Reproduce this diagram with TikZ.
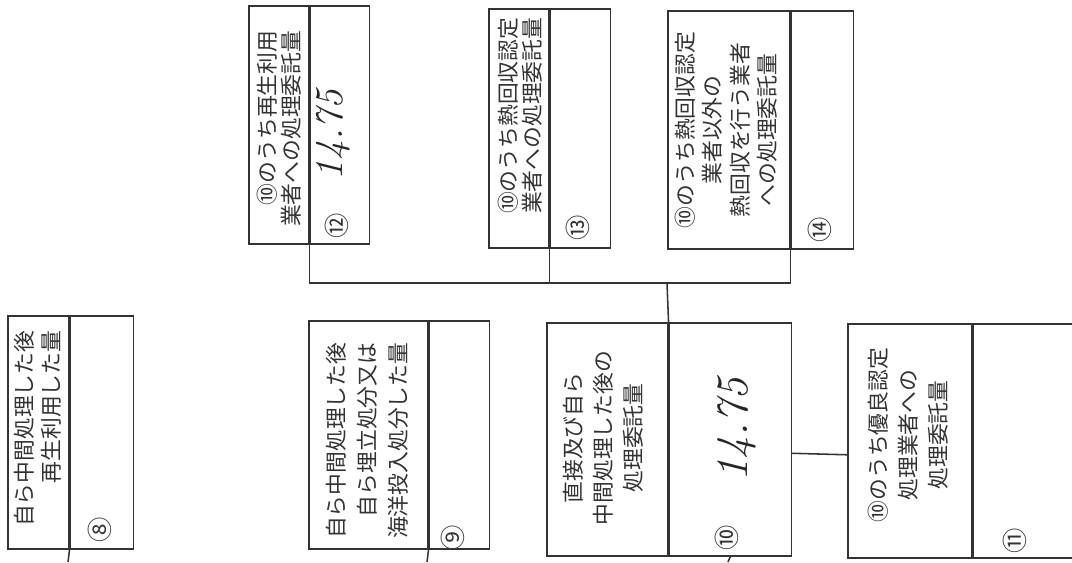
\documentclass[tikz,border=0pt]{standalone}
\usepackage{fontspec}
\newfontfamily\jpfont{Noto Sans CJK JP}
\usetikzlibrary{positioning}
\newcommand{\pxu}{0.025cm}

\begin{document}
\begin{tikzpicture}[x=0.025cm, y=-0.025cm, line width=1.1pt,
    cell/.style={draw=black!80, rectangle, inner sep=0pt, anchor=north west},
    lbl/.style={rotate=90, inner sep=0pt, text=black!80, font=\jpfont\fontsize{15.5pt}{#1}\selectfont},
    lbl/.default=19pt,
    num/.style={rotate=90, inner sep=0pt, text=black!80, font=\jpfont\fontsize{18pt}{18pt}\selectfont},
    hand/.style={rotate=90, inner sep=0pt, text=black!85, font=\itshape\fontsize{#1}{#1}\selectfont},
    hand/.default=32pt]
    \useasboundingbox (0,0) rectangle (1072,562);

    % Lower row
    \node[cell, minimum width=61*\pxu, minimum height=233*\pxu] (txt8) at (7,315) {};
    \node[cell, minimum width=63*\pxu, minimum height=233*\pxu, right=0pt of txt8] (val8) {};
    \node[lbl, anchor=east, align=right] (lab8) at (37.5,330) {自ら中間処理した後\\再生利用した量};
    \node[num] (num8) at (100,530) {⑧};

    \node[cell, minimum width=119*\pxu, minimum height=228*\pxu] (txt9) at (308,320) {};
    \node[cell, minimum width=60*\pxu, minimum height=228*\pxu, right=0pt of txt9] (val9) {};
    \node[lbl=22pt, anchor=east, align=right] (lab9) at (367,342) {自ら中間処理した後\\自ら埋立処分又は\\海洋投入処分した量};
    \node[num] (num9) at (453,538) {⑨};

    \node[cell, minimum width=121*\pxu, minimum height=233*\pxu] (txt10) at (546,322) {};
    \node[cell, minimum width=122*\pxu, minimum height=233*\pxu, right=0pt of txt10] (val10) {};
    \node[lbl=21.3pt, align=center] (lab10) at (603,438) {直接及び自ら\\中間処理した後の\\処理委託量};
    \node[num] (num10) at (727,538) {⑩};
    \node[hand] (qty10) at (737,430) {14.75};

    \node[cell, minimum width=124*\pxu, minimum height=234*\pxu] (txt11) at (847,323) {};
    \node[cell, minimum width=99*\pxu, minimum height=234*\pxu, right=0pt of txt11] (val11) {};
    \node[lbl=21.3pt, align=center] (lab11) at (908,435) {⑩のうち優良認定\\処理業者への\\処理委託量};
    \node[num] (num11) at (1015,541) {⑪};

    % Upper row
    \node[cell, minimum width=60*\pxu, minimum height=238*\pxu] (txt12) at (248,5) {};
    \node[cell, minimum width=59*\pxu, minimum height=238*\pxu, right=0pt of txt12] (val12) {};
    \node[lbl=17pt, anchor=east, align=right] (lab12) at (279,30) {⑩のうち再生利用\\業者への処理委託量};
    \node[num] (num12) at (337,226) {⑫};
    \node[hand=28pt] (qty12) at (333,135) {14.75};

    \node[cell, minimum width=60*\pxu, minimum height=239*\pxu] (txt13) at (488,8) {};
    \node[cell, minimum width=60*\pxu, minimum height=239*\pxu, right=0pt of txt13] (val13) {};
    \node[lbl=17pt, anchor=east, align=right] (lab13) at (520,17) {⑩のうち熱回収認定\\業者への処理委託量};
    \node[num] (num13) at (578,228) {⑬};

    \node[cell, minimum width=122*\pxu, minimum height=238*\pxu] (txt14) at (667,10) {};
    \node[cell, minimum width=62*\pxu, minimum height=238*\pxu, right=0pt of txt14] (val14) {};
    \node[lbl=19.5pt, align=center] (lab14) at (726,130) {⑩のうち熱回収認定\\業者以外の\\熱回収を行う業者\\への処理委託量};
    \node[num] (num14) at (820,230) {⑭};

    % Connectors
    \coordinate (bus) at (667,283);
    \draw[black!80] (txt12.south east) |- (bus) -| (txt14.south east);
    \draw[black!80] (txt13.south east) -- (txt13.south east |- bus);
    \draw[black!80] (bus) -- (txt10.north east);
    \draw[black!80] ([yshift=-14*\pxu]val10.east) -- ([yshift=-14*\pxu]txt11.west);

    \coordinate (end8) at (68,562);
    \coordinate (end9) at (427,562);
    \coordinate (end10) at (728,562);
    \draw[black!80] (txt8.south east) -- (end8);
    \draw[black!80] (txt9.south east) -- (end9);
    \draw[black!80] (val10.south) -- (end10);
\end{tikzpicture}
\end{document}
